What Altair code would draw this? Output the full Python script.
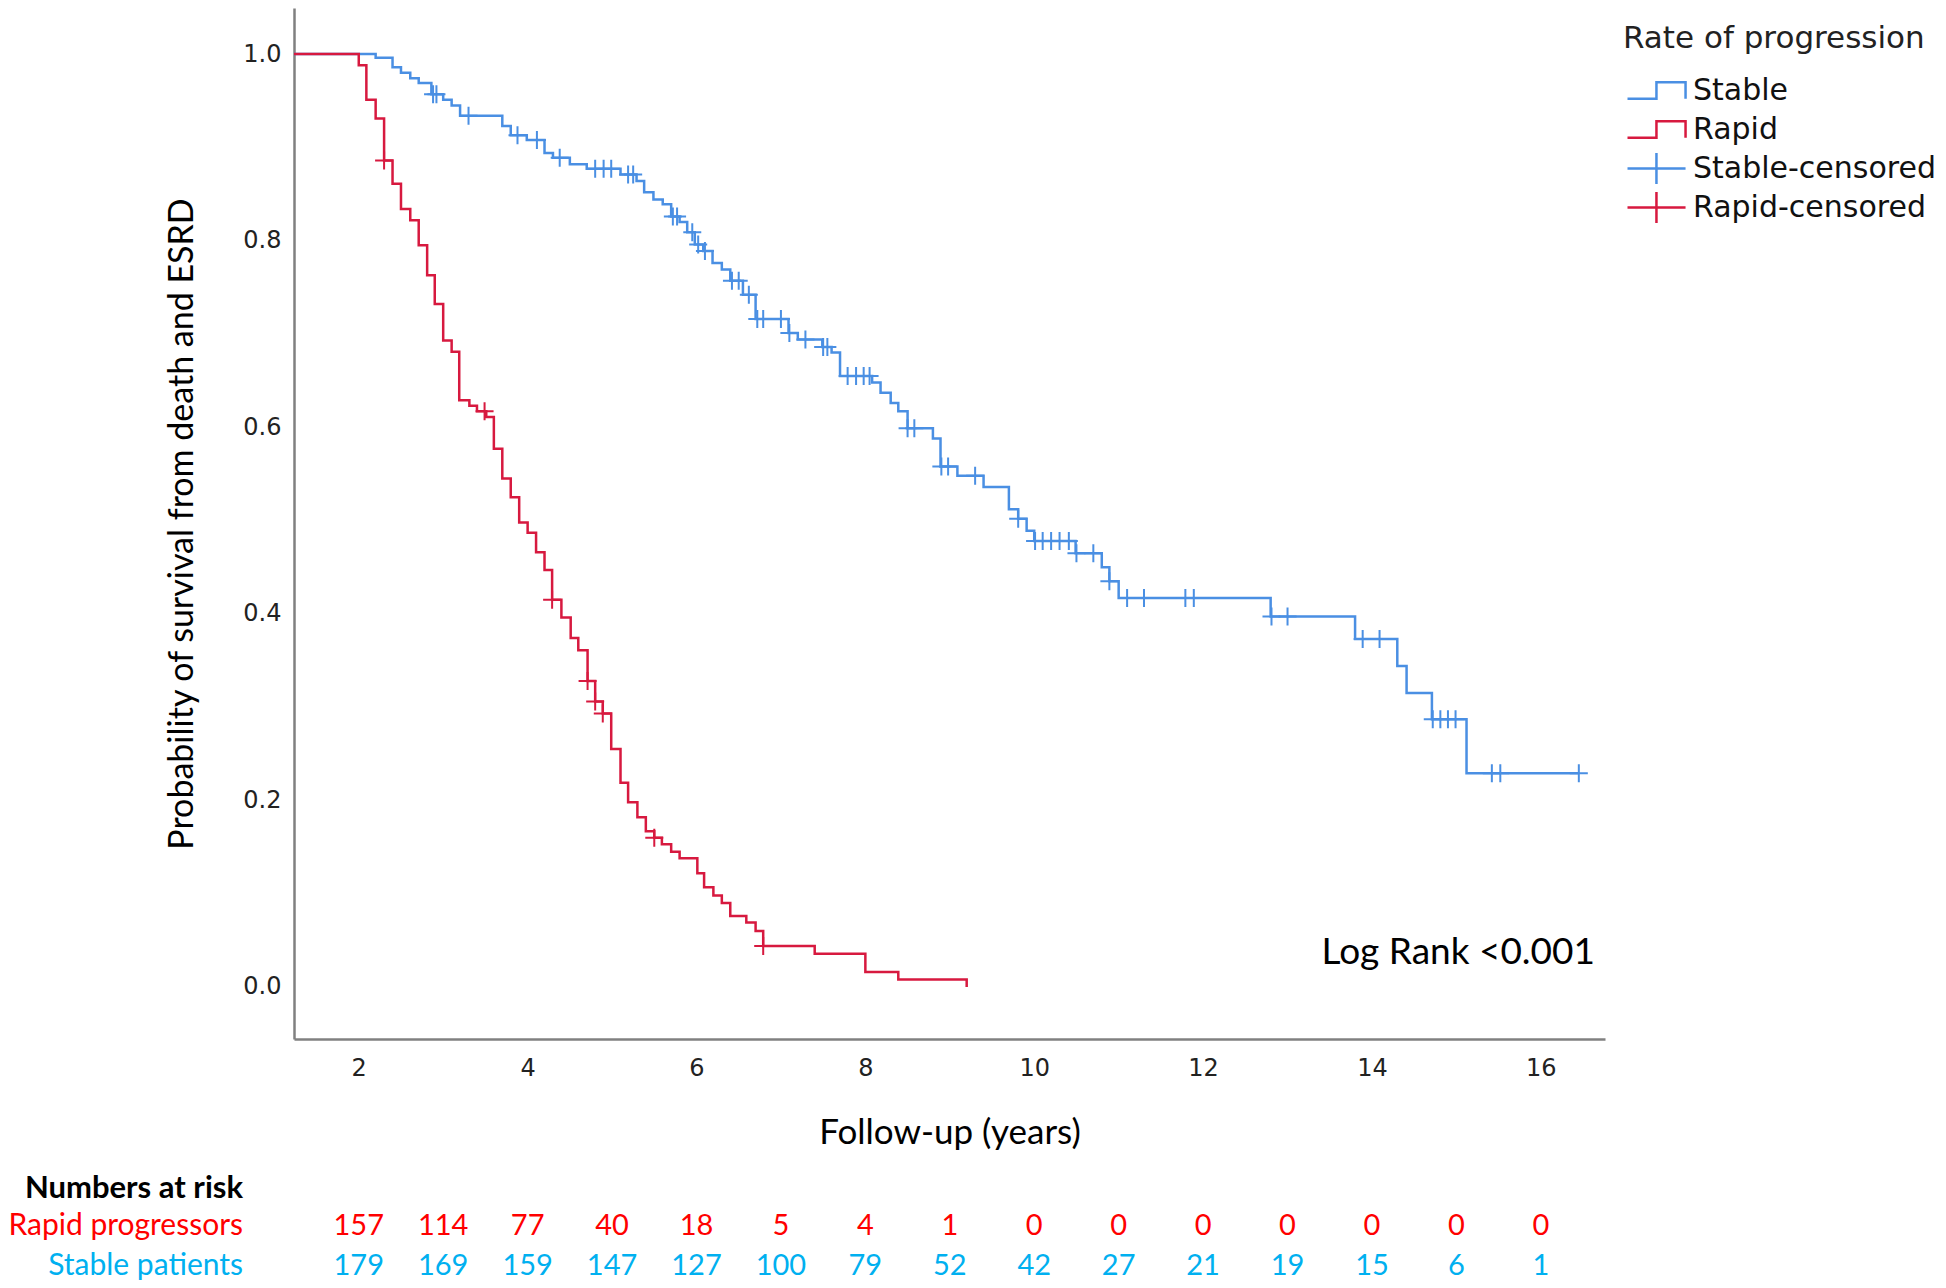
import altair as alt
import pandas as pd
import numpy as np

# ---- Kaplan-Meier curves (years, survival) ----
stable_time = [0.0, 2.20, 2.40, 2.50, 2.61, 2.71, 2.86, 3.00, 3.10, 3.20, 3.70, 3.80, 3.99,
               4.20, 4.30, 4.50, 4.70, 5.10, 5.29, 5.38, 5.49, 5.60, 5.70, 5.80, 5.89, 5.98,
               6.08, 6.19, 6.30, 6.40, 6.55, 6.70, 7.09, 7.20, 7.49, 7.60, 7.70, 8.08, 8.18,
               8.30, 8.39, 8.50, 8.80, 8.89, 9.09, 9.40, 9.70, 9.81, 9.91, 10.00, 10.49, 10.80,
               10.89, 11.00, 12.80, 13.80, 14.30, 14.41, 14.71, 15.12, 16.45]
stable_surv = [1.0, 0.996, 0.986, 0.980, 0.974, 0.969, 0.957, 0.951, 0.945, 0.934, 0.923, 0.913, 0.908,
               0.894, 0.889, 0.882, 0.877, 0.871, 0.864, 0.852, 0.844, 0.839, 0.826, 0.820, 0.809, 0.796,
               0.789, 0.776, 0.769, 0.757, 0.742, 0.716, 0.701, 0.694, 0.686, 0.680, 0.655, 0.648, 0.637,
               0.626, 0.617, 0.599, 0.588, 0.558, 0.548, 0.536, 0.512, 0.502, 0.489, 0.478, 0.465, 0.450,
               0.435, 0.417, 0.397, 0.373, 0.344, 0.315, 0.287, 0.229, 0.229]
stable_censored = [2.88, 2.92, 3.30, 3.88, 4.11, 4.38, 4.80, 4.90, 4.99, 5.19, 5.25, 5.72, 5.77,
                   5.95, 6.02, 6.10, 6.42, 6.50, 6.62, 6.72, 6.79, 7.00, 7.10, 7.29, 7.50, 7.55,
                   7.79, 7.89, 7.98, 8.05, 8.50, 8.58, 8.90, 8.98, 9.30, 9.81, 10.01, 10.10, 10.20,
                   10.30, 10.41, 10.50, 10.70, 10.89, 11.10, 11.30, 11.79, 11.89, 12.81, 13.00,
                   13.89, 14.09, 14.72, 14.81, 14.90, 14.99, 15.42, 15.52, 16.45]

rapid_time = [0.0, 2.00, 2.09, 2.20, 2.30, 2.40, 2.50, 2.61, 2.71, 2.81, 2.90, 3.00, 3.10, 3.19,
              3.31, 3.40, 3.51, 3.60, 3.70, 3.80, 3.90, 4.00, 4.10, 4.20, 4.29, 4.40, 4.51, 4.60,
              4.71, 4.80, 4.89, 4.99, 5.10, 5.19, 5.30, 5.40, 5.50, 5.59, 5.70, 5.80, 6.01, 6.09,
              6.20, 6.30, 6.40, 6.59, 6.70, 6.79, 7.40, 8.00, 8.39, 9.20]
rapid_surv = [1.0, 0.988, 0.951, 0.931, 0.886, 0.861, 0.834, 0.822, 0.795, 0.763, 0.732, 0.693, 0.681, 0.629,
              0.623, 0.617, 0.611, 0.577, 0.545, 0.525, 0.498, 0.487, 0.466, 0.447, 0.415, 0.396, 0.374, 0.361,
              0.328, 0.306, 0.293, 0.255, 0.219, 0.198, 0.182, 0.167, 0.160, 0.153, 0.145, 0.138, 0.122, 0.107,
              0.098, 0.090, 0.076, 0.069, 0.060, 0.044, 0.0355, 0.016, 0.008, 0.0]
rapid_censored = [2.30, 3.49, 4.29, 4.71, 4.80, 4.89, 5.50, 6.79]

# ---- Numbers at risk ----
risk_years = [2, 3, 4, 5, 6, 7, 8, 9, 10, 11, 12, 13, 14, 15, 16]
rapid_n = [157, 114, 77, 40, 18, 5, 4, 1, 0, 0, 0, 0, 0, 0, 0]
stable_n = [179, 169, 159, 147, 127, 100, 79, 52, 42, 27, 21, 19, 15, 6, 1]

legend_entries = ["Stable", "Rapid", "Stable-censored", "Rapid-censored"]
x_ticks = [2, 4, 6, 8, 10, 12, 14, 16]
y_ticks = [0.0, 0.2, 0.4, 0.6, 0.8, 1.0]

BLUE = "#4a8fe3"
RED = "#d7193f"
RISK_RED = "#ff0000"
RISK_BLUE = "#00b0f0"

assert len(stable_time) == len(stable_surv)
assert len(rapid_time) == len(rapid_surv)


def at(times, surv, t):
    idx = np.searchsorted(np.array(times), np.array(t), side="right") - 1
    return [surv[i] for i in idx]


stable_df = pd.DataFrame({"time": stable_time, "surv": stable_surv})
rapid_df = pd.DataFrame({"time": rapid_time, "surv": rapid_surv})
stable_c_df = pd.DataFrame({"time": stable_censored,
                            "surv": at(stable_time, stable_surv, stable_censored)})
rapid_c_df = pd.DataFrame({"time": rapid_censored,
                           "surv": at(rapid_time, rapid_surv, rapid_censored)})
risk_rapid_df = pd.DataFrame({"time": risk_years, "n": rapid_n})
risk_stable_df = pd.DataFrame({"time": risk_years, "n": stable_n})
legend_df = pd.DataFrame({"entry": legend_entries})

# ---- styling ----
W, H = 1311, 1031
x_scale = alt.Scale(domain=[1.233, 16.76], nice=False, zero=False)
y_scale = alt.Scale(domain=[-0.0558, 1.0494], nice=False, zero=False)
x_axis = alt.Axis(values=x_ticks, format="d", title="Follow-up (years)",
                  labelPadding=17, titlePadding=35, titleFontSize=35)
y_axis = alt.Axis(values=y_ticks, format=".1f", title="Probability of survival from death and ESRD",
                  labelPadding=13, titlePadding=43, titleFontSize=34)
X = alt.X("time:Q", scale=x_scale, axis=x_axis)
Y = alt.Y("surv:Q", scale=y_scale, axis=y_axis)

CROSS = "M-1,0H1M0,-1V1"
STEP_SYM = "M-0.8,0.55H1.13V-0.55H3.07V0.55"
CROSS_SYM = "M-0.8,0H3.07M1.13,-1.03V1.03"
legend_colors = [BLUE, RED, BLUE, RED]
legend_shapes = [STEP_SYM, STEP_SYM, CROSS_SYM, CROSS_SYM]

leg = alt.Legend(title="Rate of progression", orient="none", legendX=1329, legendY=16,
                 titleFont="DejaVu Sans", titleFontSize=31, titleFontWeight="normal",
                 titleColor="#222222", labelFont="DejaVu Sans", labelFontSize=30,
                 labelColor="#111111", symbolSize=900, symbolStrokeWidth=2.5,
                 labelOffset=37, rowPadding=-2, titlePadding=19, labelLimit=400,
                 titleLimit=400, padding=0, gridAlign="all")

stable_line = alt.Chart(stable_df).mark_line(
    interpolate="step-after", color=BLUE, strokeWidth=2.5, clip=True).encode(x=X, y=Y)
rapid_line = alt.Chart(rapid_df).mark_line(
    interpolate="step-after", color=RED, strokeWidth=2.5, clip=True).encode(x=X, y=Y)
stable_cens = alt.Chart(stable_c_df).mark_point(
    shape=CROSS, size=324, filled=False, color=BLUE, strokeWidth=2, opacity=1).encode(x=X, y=Y)
rapid_cens = alt.Chart(rapid_c_df).mark_point(
    shape=CROSS, size=324, filled=False, color=RED, strokeWidth=2, opacity=1).encode(x=X, y=Y)

legend_layer = alt.Chart(legend_df).mark_point(filled=False, strokeWidth=2.5, opacity=1).encode(
    color=alt.Color("entry:N", scale=alt.Scale(domain=legend_entries, range=legend_colors), legend=leg),
    shape=alt.Shape("entry:N", scale=alt.Scale(domain=legend_entries, range=legend_shapes), legend=leg),
).transform_filter("false")

RISK_FONT = "Lato"
NUM_SIZE = 29
LAB_SIZE = 30
Y_HEAD, Y_RAPID, Y_STABLE = 1181, 1218, 1258

risk_rapid = alt.Chart(risk_rapid_df).mark_text(
    font=RISK_FONT, fontSize=NUM_SIZE, color=RISK_RED, baseline="middle", align="center",
    y=Y_RAPID).encode(x=X, text="n:Q")
risk_stable = alt.Chart(risk_stable_df).mark_text(
    font=RISK_FONT, fontSize=NUM_SIZE, color=RISK_BLUE, baseline="middle", align="center",
    y=Y_STABLE).encode(x=X, text="n:Q")

head = alt.Chart(pd.DataFrame({"t": ["Numbers at risk"]})).mark_text(
    font=RISK_FONT, fontSize=31, fontWeight="bold", color="#000000", align="right",
    baseline="middle", x=-51, y=Y_HEAD).encode(text="t:N")
lab_rapid = alt.Chart(pd.DataFrame({"t": ["Rapid progressors"]})).mark_text(
    font=RISK_FONT, fontSize=LAB_SIZE, color=RISK_RED, align="right",
    baseline="middle", x=-51, y=Y_RAPID).encode(text="t:N")
lab_stable = alt.Chart(pd.DataFrame({"t": ["Stable patients"]})).mark_text(
    font=RISK_FONT, fontSize=LAB_SIZE, color=RISK_BLUE, align="right",
    baseline="middle", x=-51, y=Y_STABLE).encode(text="t:N")
logrank = alt.Chart(pd.DataFrame({"t": ["Log Rank <0.001"]})).mark_text(
    font=RISK_FONT, fontSize=37, color="#000000", align="right",
    baseline="middle", x=1301, y=945).encode(text="t:N")

chart = alt.layer(
    stable_line, rapid_line, stable_cens, rapid_cens, legend_layer,
    risk_rapid, risk_stable, head, lab_rapid, lab_stable, logrank,
).properties(
    width=W, height=H, padding={"left": 0, "top": 0, "right": 0, "bottom": 0},
    background="white"
).configure_view(
    stroke=None
).configure_axis(
    grid=False, ticks=False, domainColor="#808080", domainWidth=2.5,
    labelFont="DejaVu Sans", labelFontSize=24, labelColor="#222222",
    titleFont="Lato", titleColor="#000000", titleFontWeight="normal",
)

chart.save("out.html", embed_options={"renderer": "svg", "actions": False})
